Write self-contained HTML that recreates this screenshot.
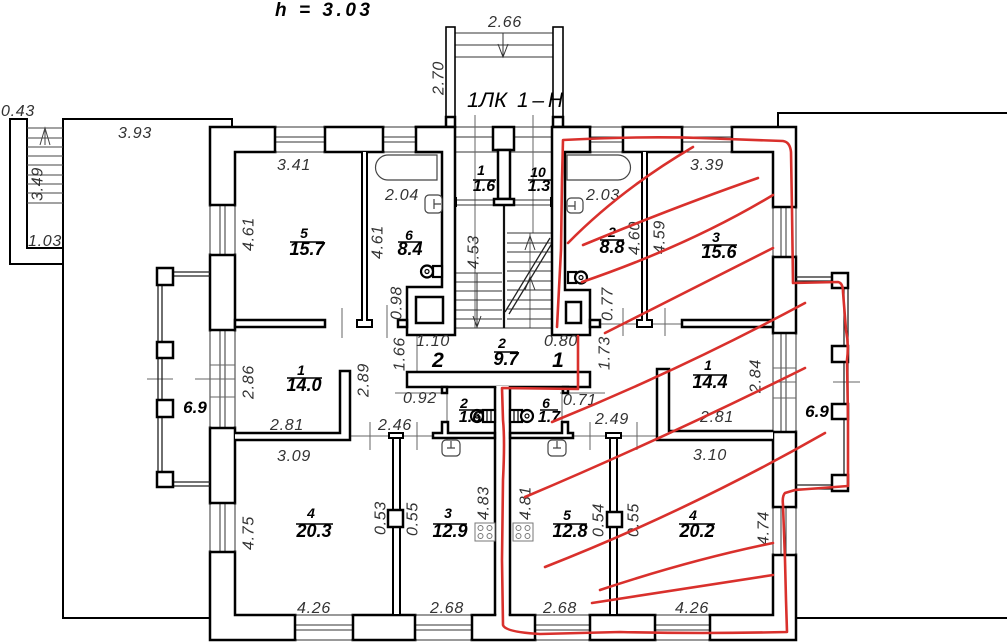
<!DOCTYPE html>
<html><head><meta charset="utf-8">
<style>
html,body{margin:0;padding:0;background:#fff;}
svg{display:block;}
.d{font-family:"Liberation Sans",sans-serif;font-style:italic;font-size:16px;fill:#333;letter-spacing:0.7px;}
.r{font-family:"Liberation Sans",sans-serif;font-style:italic;font-weight:bold;fill:#000;}
</style></head><body>
<svg width="1007" height="642" viewBox="0 0 1007 642" xmlns="http://www.w3.org/2000/svg">
<rect width="1007" height="642" fill="#fff"/>

<!-- outer building outlines -->
<g fill="none" stroke="#000" stroke-width="2">
<path d="M232,127V119H63V618H210"/>
<path d="M63,264H10V119H27V248H63"/>
<path d="M796,618H1007"/>
<path d="M778,127V113H1007"/>
</g>
<!-- left stair treads -->
<g stroke="#444" stroke-width="1">
<path d="M27,128H63M27,138H63M27,147H63M27,156H63M27,165H63M27,175H63M27,184H63M27,193H63M27,203H63"/>
<path d="M45,145V128M40,145L45,128L50,145" fill="none"/>
</g>

<!-- exterior ring -->
<g fill="none" stroke="#000" stroke-width="2.5">
<rect x="210" y="127" width="586" height="513"/>
<rect x="235" y="152" width="538" height="463"/>
</g>
<!-- window whiteouts -->
<g fill="#fff">
<rect x="276.5" y="124" width="47" height="30"/>
<rect x="384.5" y="124" width="30" height="30"/>
<rect x="455" y="124" width="97" height="30"/>
<rect x="591.5" y="124" width="30" height="30"/>
<rect x="683.5" y="124" width="47" height="30"/>
<rect x="296.5" y="613" width="55" height="30"/>
<rect x="416.5" y="613" width="54" height="30"/>
<rect x="536.5" y="613" width="52" height="30"/>
<rect x="656.5" y="613" width="52" height="30"/>
<rect x="208" y="206.5" width="29" height="47"/>
<rect x="208" y="331.5" width="29" height="95"/>
<rect x="208" y="504.5" width="29" height="46"/>
<rect x="771" y="208.5" width="27" height="47"/>
<rect x="771" y="334.5" width="27" height="96"/>
<rect x="771" y="508.5" width="27" height="45"/>
</g>
<!-- window thin lines -->
<g stroke="#333" stroke-width="1" fill="none">
<path d="M275,127H325M275,137H325M275,142H325M275,152H325"/>
<path d="M383,127H416M383,137H416M383,142H416M383,152H416"/>
<path d="M455,127H552M455,137H552M455,152H552"/>
<path d="M590,127H623M590,137H623M590,142H623M590,152H623"/>
<path d="M682,127H732M682,137H732M682,142H732M682,152H732"/>
<path d="M295,615H353M295,625H353M295,630H353M295,640H353"/>
<path d="M415,615H472M415,625H472M415,630H472M415,640H472"/>
<path d="M535,615H590M535,625H590M535,630H590M535,640H590"/>
<path d="M655,615H710M655,625H710M655,630H710M655,640H710"/>
<path d="M210,205V255M220,205V255M225,205V255M235,205V255"/>
<path d="M210,330V428M220,330V428M225,330V428M235,330V428"/>
<path d="M210,503V552M220,503V552M225,503V552M235,503V552"/>
<path d="M773,207V257M781,207V257M786,207V257M796,207V257"/>
<path d="M773,333V432M781,333V432M786,333V432M796,333V432"/>
<path d="M773,507V555M781,507V555M786,507V555M796,507V555"/>
</g>
<!-- jambs -->
<g stroke="#000" stroke-width="2.5" fill="none">
<path d="M275,127V152M325,127V152M383,127V152M623,127V152M682,127V152M732,127V152"/>
<path d="M295,615V640M353,615V640M415,615V640M472,615V640M535,615V640M590,615V640M655,615V640M710,615V640"/>
<path d="M210,205H235M210,255H235M210,330H235M210,428H235M210,503H235M210,552H235"/>
<path d="M773,207H796M773,257H796M773,333H796M773,432H796M773,507H796M773,555H796"/>
</g>

<!-- dimension thin lines -->
<g stroke="#666" stroke-width="1" fill="none">
<path d="M475,115V328M533,115V233M530,233V328"/>
<path d="M342,308V338M387,305V338"/>
<path d="M350,436H433M370,422V450M417,422V450"/>
<path d="M573,436H657M590,422V450M637,422V450"/>
<path d="M600,324H682M623,308V336M665,308V336"/>
<path d="M147,379H173M195,379H235M210,365H235M210,397H235"/>
<path d="M773,382H796M833,382H860M773,368H796M773,398H796"/>
<path d="M417,330V372M395,393H447M560,393H605M447,387V440M562,387V440"/>
</g>

<!-- balconies rails -->
<g stroke="#222" stroke-width="1.3" fill="none">
<path d="M173,272H210M173,276H210M158,285V472M162,285V472M173,482H210M173,486H210"/>
<path d="M796,277H832M796,281H832M844,288V475M848,288V475M796,485H832M796,489H832"/>
</g>
<g fill="#fff" stroke="#000" stroke-width="2.5">
<rect x="157" y="268" width="16" height="17"/>
<rect x="157" y="342" width="16" height="16"/>
<rect x="157" y="400" width="16" height="17"/>
<rect x="157" y="472" width="16" height="15"/>
<rect x="832" y="273" width="16" height="15"/>
<rect x="832" y="346" width="16" height="16"/>
<rect x="832" y="404" width="16" height="15"/>
<rect x="832" y="475" width="16" height="16"/>
</g>

<!-- porch -->
<g stroke="#333" stroke-width="1" fill="none">
<path d="M455,33H553M455,45H553M455,57H553"/>
<path d="M503,33V57M498,44L503,57L508,44"/>
</g>
<g fill="#fff" stroke="#000" stroke-width="1.6">
<rect x="446" y="27" width="9" height="98"/>
<rect x="553" y="27" width="10" height="98"/>
</g>
<g fill="#fff" stroke="#000" stroke-width="2.5">
<rect x="446" y="117" width="9" height="10"/>
<rect x="553" y="117" width="10" height="10"/>
</g>

<!-- stairs -->
<g stroke="#333" stroke-width="1" fill="none">
<path d="M455,273H502M455,282H502M455,291H502M455,300H502M455,310H502M455,319H502M455,328H552"/>
<path d="M477,273V328M473,316L477,327L481,316M477,295V327"/>
<path d="M507,233H552M507,243H552M507,252H552M507,262H552M507,271H552M507,281H552M507,290H552M507,300H552M507,309H552M507,319H552"/>
<path d="M525,250L530,236L535,250M525,290L530,277L535,290"/>
<path d="M505,312L550,238M509,314L554,240" stroke="#222" stroke-width="1.3"/>
<path d="M455,200H552M455,205H552"/>
</g>
<path d="M504,205V328" stroke="#111" stroke-width="2.2"/>
<rect x="453" y="197" width="4" height="10" fill="#000"/>
<rect x="550" y="197" width="4" height="10" fill="#000"/>

<!-- interior walls -->
<g fill="#fff" stroke="#000" stroke-width="2.5" stroke-linejoin="miter">
<path d="M416,127H455V335H407V287H442V152H416Z"/>
<path d="M552,127H590V152H565V290H590V335H552Z"/>
<rect x="416" y="297" width="27" height="26"/>
<rect x="566" y="302" width="15" height="21"/>
<rect x="407" y="372" width="183" height="15"/>
<rect x="493" y="127" width="21" height="23"/>
<rect x="498" y="150" width="12" height="49"/>
<rect x="494" y="199" width="20" height="6"/>
<rect x="235" y="320" width="90" height="7"/>
<rect x="398" y="320" width="9" height="7"/>
<rect x="682" y="320" width="91" height="7"/>
<rect x="590" y="320" width="10" height="7"/>
<path d="M235,433H340V371H350V440H235"/>
<path d="M773,431H669V369H657V440H773"/>
<rect x="442" y="387" width="5" height="6"/>
<path d="M442,422H448V433H495V438H433V433H442Z"/>
<rect x="563" y="387" width="5" height="6"/>
<path d="M562,422H568V433H573V438H510V433H562Z"/>
</g>
<g fill="#fff" stroke="#000" stroke-width="2">
<path d="M362,152V320H357V327H372V320H367V152"/>
<path d="M642,152V320H637V327H652V320H647V152"/>
<rect x="393" y="437" width="7" height="178"/>
<rect x="389" y="433" width="14" height="5"/>
<rect x="610" y="437" width="7" height="178"/>
<rect x="606" y="433" width="15" height="5"/>
</g>
<g fill="#fff" stroke="#000" stroke-width="2.5">
<rect x="388" y="510" width="15" height="17"/>
<rect x="607" y="512" width="15" height="15"/>
</g>
<!-- party wall -->
<rect x="496.3" y="386" width="12.4" height="231" fill="#fff"/>
<path d="M495,387V615M510,387V615" stroke="#000" stroke-width="2.5"/>

<!-- fixtures -->
<g fill="#fff" stroke="#444" stroke-width="1.2">
<path d="M437,155H388A12.5,12.5 0 0 0 388,180H437Z"/>
<path d="M567,155H618A12.5,12.5 0 0 1 618,180H567Z"/>
<rect x="425" y="195" width="17" height="18" rx="4"/>
<path d="M434,199V209M434,204H441" fill="none"/>
<rect x="567" y="198" width="16" height="15" rx="4"/>
<path d="M575,201V210M568,206H575" fill="none"/>
<rect x="442" y="440" width="18" height="16" rx="4"/>
<path d="M451,441V448M447,448H455" fill="none"/>
<rect x="548" y="440" width="18" height="16" rx="4"/>
<path d="M557,441V448M553,448H561" fill="none"/>
</g>
<g fill="#fff" stroke="#000" stroke-width="2.2">
<rect x="433" y="266" width="9" height="11"/>
<circle cx="427" cy="271.5" r="6"/>
<rect x="568" y="272" width="8" height="11"/>
<circle cx="581" cy="277.5" r="6"/>
<rect x="483" y="410" width="12" height="12"/>
<circle cx="477" cy="416" r="6"/>
<rect x="510" y="410" width="12" height="12"/>
<circle cx="527" cy="416" r="6"/>
</g>
<g fill="none" stroke="#000" stroke-width="1.2">
<circle cx="427" cy="271.5" r="2"/><circle cx="581" cy="277.5" r="2"/>
<circle cx="477" cy="416" r="2"/><circle cx="527" cy="416" r="2"/>
<path d="M487,410V422M491,410V422M514,410V422M518,410V422"/>
</g>
<g fill="#fff" stroke="#777" stroke-width="1">
<rect x="475" y="523" width="20" height="18"/>
<rect x="513" y="523" width="20" height="18"/>
<circle cx="480.5" cy="528" r="2.5"/><circle cx="489.5" cy="528" r="2.5"/>
<circle cx="480.5" cy="536" r="2.5"/><circle cx="489.5" cy="536" r="2.5"/>
<circle cx="518.5" cy="528" r="2.5"/><circle cx="527.5" cy="528" r="2.5"/>
<circle cx="518.5" cy="536" r="2.5"/><circle cx="527.5" cy="536" r="2.5"/>
</g>

<!-- titles -->
<text x="275" y="16" font-family="Liberation Sans, sans-serif" font-style="italic" font-weight="bold" font-size="19" textLength="95" lengthAdjust="spacing" fill="#000">h = 3.03</text>
<text x="467" y="107" font-family="Liberation Sans, sans-serif" font-style="italic" font-size="21" textLength="40" lengthAdjust="spacingAndGlyphs" fill="#000">1ЛК</text>
<text x="517" y="107" font-family="Liberation Sans, sans-serif" font-style="italic" font-size="21" textLength="46" lengthAdjust="spacing" fill="#000">1–Н</text>

<!-- horizontal dimensions -->
<g class="d" text-anchor="middle">
<text x="18" y="116">0.43</text>
<text x="135" y="138">3.93</text>
<text x="45" y="246">1.03</text>
<text x="505" y="27">2.66</text>
<text x="294" y="170">3.41</text>
<text x="402" y="200">2.04</text>
<text x="707" y="170">3.39</text>
<text x="603" y="200">2.03</text>
<text x="433" y="346">1.10</text>
<text x="561" y="346">0.80</text>
<text x="420" y="403">0.92</text>
<text x="580" y="405">0.71</text>
<text x="395" y="430">2.46</text>
<text x="612" y="424">2.49</text>
<text x="287" y="430">2.81</text>
<text x="294" y="461">3.09</text>
<text x="717" y="422">2.81</text>
<text x="710" y="460">3.10</text>
<text x="314" y="613">4.26</text>
<text x="447" y="613">2.68</text>
<text x="560" y="613">2.68</text>
<text x="692" y="613">4.26</text>
</g>
<!-- rotated dimensions -->
<g class="d" text-anchor="middle">
<text transform="translate(37,184) rotate(-90)" dy="5.6">3.49</text>
<text transform="translate(438,78) rotate(-90)" dy="5.6">2.70</text>
<text transform="translate(248,234) rotate(-90)" dy="5.6">4.61</text>
<text transform="translate(377,242) rotate(-90)" dy="5.6">4.61</text>
<text transform="translate(473,252) rotate(-90)" dy="5.6">4.53</text>
<text transform="translate(396,303) rotate(-90)" dy="5.6">0.98</text>
<text transform="translate(634,238) rotate(-90)" dy="5.6">4.60</text>
<text transform="translate(659,237) rotate(-90)" dy="5.6">4.59</text>
<text transform="translate(607,304) rotate(-90)" dy="5.6">0.77</text>
<text transform="translate(399,354) rotate(-90)" dy="5.6">1.66</text>
<text transform="translate(604,353) rotate(-90)" dy="5.6">1.73</text>
<text transform="translate(248,382) rotate(-90)" dy="5.6">2.86</text>
<text transform="translate(363,380) rotate(-90)" dy="5.6">2.89</text>
<text transform="translate(755,376) rotate(-90)" dy="5.6">2.84</text>
<text transform="translate(248,533) rotate(-90)" dy="5.6">4.75</text>
<text transform="translate(380,518) rotate(-90)" dy="5.6">0.53</text>
<text transform="translate(412,519) rotate(-90)" dy="5.6">0.55</text>
<text transform="translate(483,503) rotate(-90)" dy="5.6">4.83</text>
<text transform="translate(525,503) rotate(-90)" dy="5.6">4.81</text>
<text transform="translate(598,520) rotate(-90)" dy="5.6">0.54</text>
<text transform="translate(633,520) rotate(-90)" dy="5.6">0.55</text>
<text transform="translate(763,528) rotate(-90)" dy="5.6">4.74</text>
</g>

<!-- room labels -->
<g class="r" text-anchor="middle">
<g font-size="14">
<text x="304" y="238">5</text><text x="409" y="240">6</text>
<text x="481" y="175">1</text><text x="538" y="177">10</text>
<text x="612" y="237">2</text><text x="716" y="242">3</text>
<text x="301" y="375">1</text><text x="502" y="348">2</text>
<text x="464" y="408">2</text><text x="546" y="408">6</text>
<text x="311" y="518">4</text><text x="448" y="518">3</text>
<text x="708" y="370">1</text><text x="567" y="520">5</text>
<text x="693" y="520">4</text>
</g>
<g font-size="18">
<text x="307" y="255">15.7</text><text x="410" y="255">8.4</text>
<text x="484" y="191" font-size="16">1.6</text><text x="539" y="191" font-size="16">1.3</text>
<text x="612" y="253">8.8</text><text x="719" y="258">15.6</text>
<text x="304" y="391">14.0</text><text x="506" y="365">9.7</text>
<text x="470" y="422" font-size="16">1.6</text><text x="549" y="422" font-size="16">1.7</text>
<text x="314" y="537">20.3</text><text x="450" y="537">12.9</text>
<text x="710" y="388">14.4</text><text x="570" y="537">12.8</text>
<text x="697" y="537">20.2</text>
</g>
<text x="438" y="367" font-size="21">2</text>
<text x="558" y="367" font-size="21">1</text>
<text x="195" y="413" font-size="17">6.9</text>
<text x="817" y="417" font-size="17">6.9</text>
</g>
<g stroke="#000" stroke-width="1.5">
<path d="M290,242H324M398,242H422M473,180H496M528,180H551M600,240H624M702,245H737M287,378H322M494,352H518M459,410H482M540,410H558M296,524H333M433,524H467M693,375H727M553,524H587M679,524H715"/>
</g>

<!-- red markup -->
<g fill="none" stroke="#d9302c" stroke-width="2.6" stroke-linecap="round" stroke-linejoin="round">
<path d="M557,327 L561,250 L562,180 L563,140 Q640,136 700,138 L783,141 Q790,142 791,152 L792,210 L793,283 L838,282 Q843,283 843,292 L846,330 Q849,345 847,360 L848,420 L848,486 Q820,488 795,490 L785,493 Q782,496 783,505 L785,560 L786,600 L787,632 Q700,634 620,632 L540,634 Q505,632 503,625 L502,560 L503,480 Q505,440 503,420 L502,388 L578,389 L578,336"/>
<path d="M568,243 Q620,190 693,147"/>
<path d="M583,245 Q680,205 758,178"/>
<path d="M582,282 Q690,245 773,195"/>
<path d="M773,248 Q690,290 605,333"/>
<path d="M805,303 Q680,370 552,422"/>
<path d="M805,368 Q660,440 525,497"/>
<path d="M825,433 Q690,510 545,567"/>
<path d="M773,543 Q690,560 600,590"/>
<path d="M773,575 Q690,588 592,603"/>
</g>
</svg>
</body></html>
